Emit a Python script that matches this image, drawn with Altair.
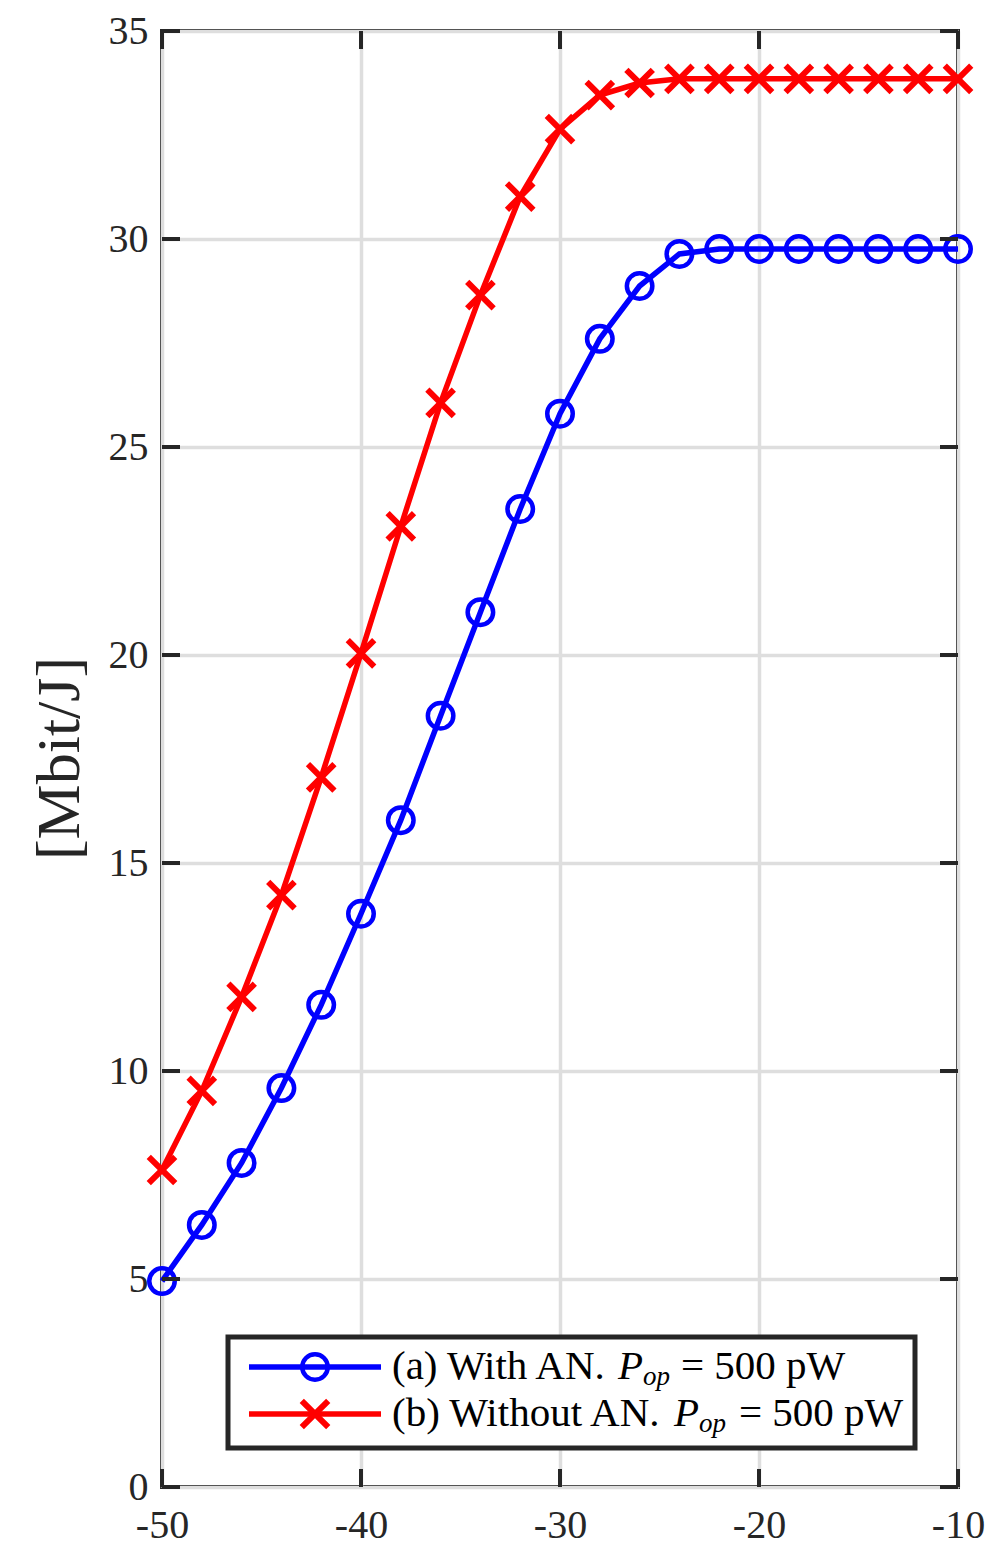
import altair as alt
import pandas as pd

# ---- data ----
x_vals = [-50, -48, -46, -44, -42, -40, -38, -36, -34, -32, -30,
          -28, -26, -24, -22, -20, -18, -16, -14, -12, -10]
with_an = [4.95, 6.30, 7.79, 9.59, 11.59, 13.78, 16.03, 18.54, 21.03, 23.51, 25.80,
           27.60, 28.87, 29.64, 29.76, 29.76, 29.76, 29.76, 29.76, 29.76, 29.76]
without_an = [7.62, 9.52, 11.78, 14.23, 17.06, 20.04, 23.09, 26.06, 28.65, 31.02, 32.64,
              33.46, 33.75, 33.85, 33.85, 33.85, 33.85, 33.85, 33.85, 33.85, 33.85]
x_ticks = [-50, -40, -30, -20, -10]
y_ticks = [0, 5, 10, 15, 20, 25, 30, 35]
y_title = "[Mbit/J]"
legend_main = ["(a) With AN.", "(b) Without AN."]
legend_sym = ["P", "P"]
legend_sub = ["op", "op"]
legend_tail = ["= 500 pW", "= 500 pW"]

W, H = 796, 1456
FONT = "Liberation Serif"
DARK = "#262626"
BLUE = "#0000ff"
RED = "#ff0000"
XMARK = "M-1,-1L1,1M-1,1L1,-1"

df_a = pd.DataFrame({"x": x_vals, "y": with_an})
df_b = pd.DataFrame({"x": x_vals, "y": without_an})

xscale = alt.Scale(domain=[-50, -10], nice=False, zero=False)
yscale = alt.Scale(domain=[0, 35], nice=False, zero=False)

xaxis = alt.Axis(values=x_ticks, grid=True, gridColor="#dedede", gridWidth=3.5,
                 ticks=False, domain=False, labelFont=FONT, labelFontSize=40,
                 labelColor=DARK, labelPadding=18, labelFlush=False, title=None,
                 labelExpr="replace(datum.label, '\u2212', '-')")
yaxis = alt.Axis(values=y_ticks, grid=True, gridColor="#dedede", gridWidth=3.5,
                 ticks=False, domain=False, labelFont=FONT, labelFontSize=40,
                 labelColor=DARK, labelPadding=14, labelFlush=False, title=y_title,
                 titleFont=FONT, titleFontSize=62, titleFontWeight="normal",
                 titleColor=DARK, titleX=-84, titleY=727, titleAlign="center",
                 titleBaseline="alphabetic", titleAngle=270)

X = lambda f: alt.X(f, type="quantitative", scale=xscale, axis=xaxis)
Y = lambda f: alt.Y(f, type="quantitative", scale=yscale, axis=yaxis)

line_a = alt.Chart(df_a).mark_line(color=BLUE, strokeWidth=5.5).encode(x=X("x"), y=Y("y"))
pts_a = alt.Chart(df_a).mark_point(shape="circle", filled=False, size=650, strokeWidth=4.5,
                                   color=BLUE, opacity=1).encode(x=X("x"), y=Y("y"))
line_b = alt.Chart(df_b).mark_line(color=RED, strokeWidth=5.5).encode(x=X("x"), y=Y("y"))
pts_b = alt.Chart(df_b).mark_point(shape=XMARK, filled=False, size=700, strokeWidth=6,
                                   color=RED, opacity=1).encode(x=X("x"), y=Y("y"))

# inward ticks on all four sides (MATLAB box style)
tx = pd.DataFrame({"t": x_ticks})
ty = pd.DataFrame({"t": y_ticks})
TL = 18
tick_bottom = alt.Chart(tx).mark_rule(color=DARK, strokeWidth=4).encode(
    x=X("t"), y=alt.value(H), y2=alt.value(H - TL))
tick_top = alt.Chart(tx).mark_rule(color=DARK, strokeWidth=4).encode(
    x=X("t"), y=alt.value(0), y2=alt.value(TL))
tick_left = alt.Chart(ty).mark_rule(color=DARK, strokeWidth=4).encode(
    y=Y("t"), x=alt.value(0), x2=alt.value(TL))
tick_right = alt.Chart(ty).mark_rule(color=DARK, strokeWidth=4).encode(
    y=Y("t"), x=alt.value(W - TL), x2=alt.value(W))

# ---- legend (drawn in pixel space of the plot) ----
one = pd.DataFrame({"k": [0]})
leg_box = alt.Chart(one).mark_rect(fill="white", stroke=DARK, strokeWidth=5).encode(
    x=alt.value(66), x2=alt.value(753), y=alt.value(1306), y2=alt.value(1417))

rows_y = [1336, 1383]
colors = [BLUE, RED]
shapes = ["circle", XMARK]
sizes = [650, 700]
swidths = [4.5, 6]
# x positions of the text pieces per row
text_x = [230, 230]
sym_x = [456, 512]
sub_x = [481, 537]
tail_x = [519, 577]

legend_layers = [leg_box]
for i in range(2):
    yv = rows_y[i]
    legend_layers.append(
        alt.Chart(one).mark_rule(color=colors[i], strokeWidth=5.5).encode(
            x=alt.value(87), x2=alt.value(219), y=alt.value(yv)))
    legend_layers.append(
        alt.Chart(one).mark_point(shape=shapes[i], filled=False, size=sizes[i],
                                  strokeWidth=swidths[i],
                                  color=colors[i], opacity=1).encode(
            x=alt.value(153), y=alt.value(yv)))
    row = pd.DataFrame({"main": [legend_main[i]], "sym": [legend_sym[i]],
                        "sub": [legend_sub[i]], "tail": [legend_tail[i]]})
    legend_layers.append(
        alt.Chart(row).mark_text(align="left", baseline="middle", font=FONT,
                                 fontSize=41, color="black").encode(
            x=alt.value(text_x[i]), y=alt.value(yv), text="main:N"))
    legend_layers.append(
        alt.Chart(row).mark_text(align="left", baseline="middle", font=FONT,
                                 fontSize=41, fontStyle="italic", color="black").encode(
            x=alt.value(sym_x[i]), y=alt.value(yv), text="sym:N"))
    legend_layers.append(
        alt.Chart(row).mark_text(align="left", baseline="middle", font=FONT,
                                 fontSize=27, fontStyle="italic", color="black").encode(
            x=alt.value(sub_x[i]), y=alt.value(yv + 10), text="sub:N"))
    legend_layers.append(
        alt.Chart(row).mark_text(align="left", baseline="middle", font=FONT,
                                 fontSize=41, color="black").encode(
            x=alt.value(tail_x[i]), y=alt.value(yv), text="tail:N"))

chart = alt.layer(
    line_a, pts_a, line_b, pts_b,
    tick_bottom, tick_top, tick_left, tick_right,
    *legend_layers
).properties(
    width=W, height=H,
    autosize=alt.AutoSizeParams(type="none"),
    padding={"left": 162, "top": 31, "right": 33, "bottom": 58},
    background="white",
).configure_view(stroke=DARK, strokeWidth=4)

chart.save("out.html", embed_options={"renderer": "svg", "actions": False})
